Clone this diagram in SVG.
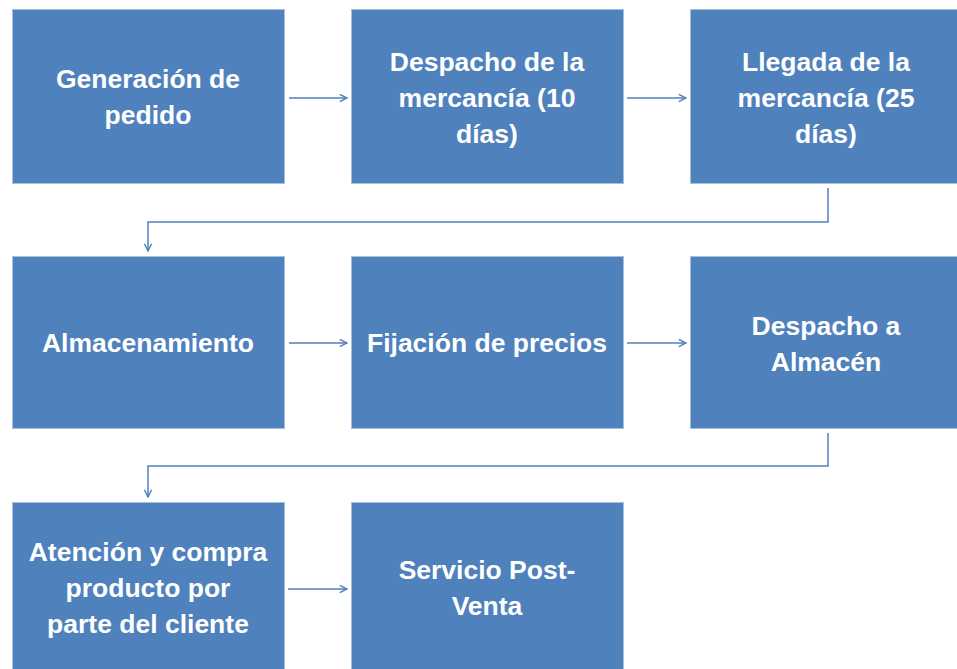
<svg xmlns="http://www.w3.org/2000/svg" width="957" height="669" viewBox="0 0 957 669">
<defs>
<style>
.box{fill:#4F81BD;stroke:#A7BEDD;stroke-width:1}
.t{font-family:"Liberation Sans",Arial,sans-serif;font-weight:bold;font-size:26.5px;fill:#FFFFFF;text-anchor:middle}
.c{fill:none;stroke:#4F81BD;stroke-width:1.5}
</style>
<marker id="ah" viewBox="0 0 10 10" refX="9" refY="5" markerWidth="9" markerHeight="9" markerUnits="userSpaceOnUse" orient="auto">
<path d="M1,1 L9,5 L1,9" fill="none" stroke="#4F81BD" stroke-width="1.6"/>
</marker>
</defs>
<rect width="957" height="669" fill="#FFFFFF"/>
<g id="connectors">
<line class="c" x1="289" y1="98" x2="347" y2="98" marker-end="url(#ah)"/>
<line class="c" x1="627" y1="98" x2="686" y2="98" marker-end="url(#ah)"/>
<polyline class="c" points="828,188 828,222 148,222 148,251" marker-end="url(#ah)"/>
<line class="c" x1="289" y1="343" x2="347" y2="343" marker-end="url(#ah)"/>
<line class="c" x1="627" y1="343" x2="686" y2="343" marker-end="url(#ah)"/>
<polyline class="c" points="828,433 828,466 148,466 148,497" marker-end="url(#ah)"/>
<line class="c" x1="288" y1="589" x2="347" y2="589" marker-end="url(#ah)"/>
</g>
<g id="n1"><rect class="box" x="12.5" y="9.5" width="272" height="174"/>
<text class="t" x="148" y="88">Generación de</text><text class="t" x="148" y="124">pedido</text></g>
<g id="n2"><rect class="box" x="351.5" y="9.5" width="272" height="174"/>
<text class="t" x="487" y="71">Despacho de la</text><text class="t" x="487" y="107">mercancía (10</text><text class="t" x="487" y="143">días)</text></g>
<g id="n3"><rect class="box" x="690.5" y="9.5" width="272" height="174"/>
<text class="t" x="826" y="71">Llegada de la</text><text class="t" x="826" y="107">mercancía (25</text><text class="t" x="826" y="143">días)</text></g>
<g id="n4"><rect class="box" x="12.5" y="256.5" width="272" height="172"/>
<text class="t" x="148" y="352">Almacenamiento</text></g>
<g id="n5"><rect class="box" x="351.5" y="256.5" width="272" height="172"/>
<text class="t" x="487" y="352">Fijación de precios</text></g>
<g id="n6"><rect class="box" x="690.5" y="256.5" width="272" height="172"/>
<text class="t" x="826" y="335">Despacho a</text><text class="t" x="826" y="371">Almacén</text></g>
<g id="n7"><rect class="box" x="12.5" y="502.5" width="272" height="172"/>
<text class="t" x="148" y="561">Atención y compra</text><text class="t" x="148" y="597">producto por</text><text class="t" x="148" y="633">parte del cliente</text></g>
<g id="n8"><rect class="box" x="351.5" y="502.5" width="272" height="172"/>
<text class="t" x="487" y="579">Servicio Post-</text><text class="t" x="487" y="615">Venta</text></g>
</svg>
